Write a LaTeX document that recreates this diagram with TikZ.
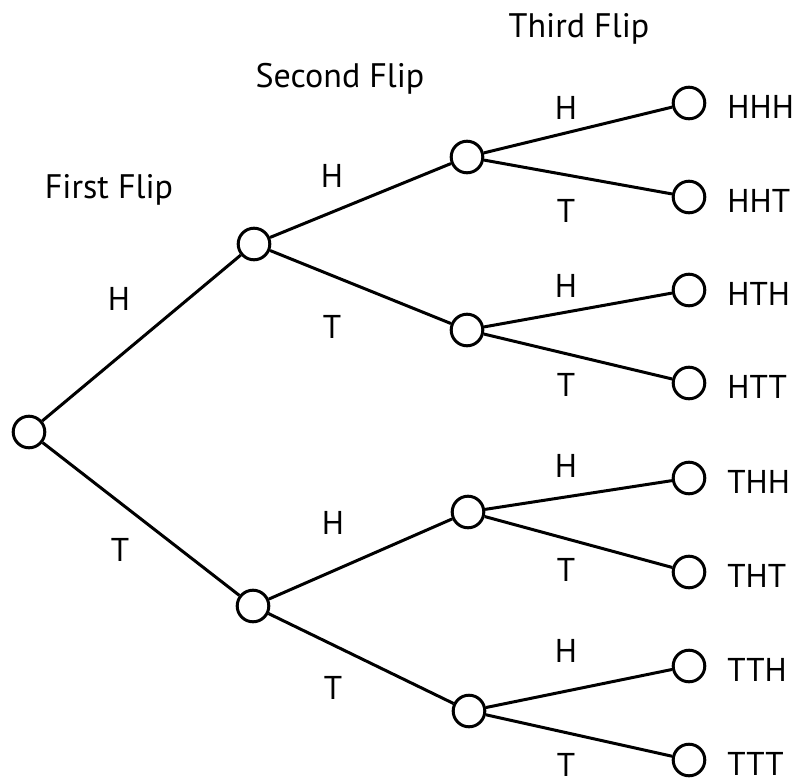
\documentclass[tikz,border=0pt]{standalone}
\usepackage{fontspec}
\setmainfont{PT Sans}
\begin{document}
\begin{tikzpicture}[x=0.5pt,y=-0.5pt,
  dot/.style={circle,draw,line width=1.5pt,minimum size=15.8pt,inner sep=0pt,fill=white},
  edge/.style={line width=1.5pt},
  lbl/.style={font=\fontsize{16.5}{19}\selectfont,inner sep=0pt},
  ttl/.style={font=\fontsize{17}{20}\selectfont,inner sep=0pt},
  leaf/.style={font=\fontsize{16.5}{19}\selectfont,inner sep=0pt,anchor=west}]
\useasboundingbox (0,0) rectangle (800,778);
% nodes
\node[dot] (r) at (29,432) {};
\node[dot] (a1) at (254,244) {};
\node[dot] (a2) at (253,606) {};
\node[dot] (b1) at (467,157) {};
\node[dot] (b2) at (467,330) {};
\node[dot] (b3) at (468,512) {};
\node[dot] (b4) at (469,711) {};
\node[dot] (c1) at (689,103) {};
\node[dot] (c2) at (689,197) {};
\node[dot] (c3) at (689,290) {};
\node[dot] (c4) at (689,383) {};
\node[dot] (c5) at (689,478) {};
\node[dot] (c6) at (689,572) {};
\node[dot] (c7) at (689,666) {};
\node[dot] (c8) at (689,760) {};
% edges
\draw[edge] (r) -- (a1);
\draw[edge] (r) -- (a2);
\draw[edge] (a1) -- (b1);
\draw[edge] (a1) -- (b2);
\draw[edge] (a2) -- (b3);
\draw[edge] (a2) -- (b4);
\draw[edge] (b1) -- (c1);
\draw[edge] (b1) -- (c2);
\draw[edge] (b2) -- (c3);
\draw[edge] (b2) -- (c4);
\draw[edge] (b3) -- (c5);
\draw[edge] (b3) -- (c6);
\draw[edge] (b4) -- (c7);
\draw[edge] (b4) -- (c8);
% titles
\node[ttl] (t1) at (109,190) {First Flip};
\node[ttl] (t2) at (340,79) {Second Flip};
\node[ttl] (t3) at (579,29) {Third Flip};
% edge labels
\node[lbl] (l1) at (119,299) {H};
\node[lbl] (l2) at (120,550) {T};
\node[lbl] (l3) at (332,176) {H};
\node[lbl] (l4) at (332,327) {T};
\node[lbl] (l5) at (333,523) {H};
\node[lbl] (l6) at (333,688) {T};
\node[lbl] (l7) at (566,108) {H};
\node[lbl] (l8) at (566,211) {T};
\node[lbl] (l9) at (566,286) {H};
\node[lbl] (l10) at (566,385) {T};
\node[lbl] (l11) at (566,466) {H};
\node[lbl] (l12) at (566,570) {T};
\node[lbl] (l13) at (566,651) {H};
\node[lbl] (l14) at (566,765) {T};
% leaf labels
\node[leaf] (o1) at (727,107) {HHH};
\node[leaf] (o2) at (727,201) {HHT};
\node[leaf] (o3) at (727,294) {HTH};
\node[leaf] (o4) at (727,387) {HTT};
\node[leaf] (o5) at (727,482) {THH};
\node[leaf] (o6) at (727,576) {THT};
\node[leaf] (o7) at (727,670) {TTH};
\node[leaf] (o8) at (727,764) {TTT};
\end{tikzpicture}
\end{document}
